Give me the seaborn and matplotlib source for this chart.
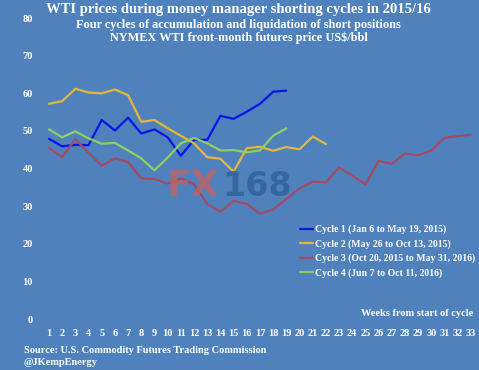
import pandas as pd
import numpy as np
import matplotlib
matplotlib.use("Agg")
import matplotlib.pyplot as plt
import seaborn as sns

# Weekly WTI prices (US$/bbl)
cycle1 = [47.9, 45.9, 46.3, 46.2, 52.9, 50.1, 53.5, 49.3, 50.4, 48.3,
          43.4, 47.6, 47.6, 54.0, 53.2, 55.1, 57.2, 60.4, 60.7]
cycle2 = [57.2, 57.9, 61.2, 60.2, 60.0, 61.0, 59.5, 52.4, 52.9, 50.7,
          48.7, 46.7, 43.0, 42.6, 39.2, 45.4, 45.8, 44.7, 45.7, 45.1,
          48.5, 46.5]
cycle3 = [45.5, 43.0, 47.8, 44.2, 40.7, 42.7, 41.7, 37.4, 37.2, 36.0,
          37.4, 35.8, 30.6, 28.5, 31.4, 30.6, 28.0, 29.1, 31.9, 34.7,
          36.5, 36.3, 40.3, 38.1, 35.8, 42.1, 41.2, 44.0, 43.5, 44.8,
          48.2, 48.6, 49.0]
cycle4 = [50.4, 48.3, 49.9, 48.0, 46.6, 46.8, 44.8, 42.7, 39.5, 42.9,
          46.7, 48.1, 46.7, 44.8, 44.9, 44.3, 44.8, 48.7, 50.7]

labels = ["Cycle 1 (Jan 6 to May 19, 2015)",
          "Cycle 2 (May 26 to Oct 13, 2015)",
          "Cycle 3 (Oct 20, 2015 to May 31, 2016)",
          "Cycle 4 (Jun 7 to Oct 11, 2016)"]
colors = ["#0A14E6", "#E6B63A", "#A64A64", "#8ECF62"]

frames = []
for lab, vals in zip(labels, [cycle1, cycle2, cycle3, cycle4]):
    frames.append(pd.DataFrame({"week": np.arange(1, len(vals) + 1),
                                "price": vals, "cycle": lab}))
df = pd.concat(frames)

bg = "#4F81BD"
sns.set_style("white")
plt.rcParams["font.family"] = ["Liberation Serif", "DejaVu Serif"]
plt.rcParams["font.weight"] = "bold"

fig = plt.figure(figsize=(4.79, 3.70), dpi=100, facecolor=bg)
ax = fig.add_axes([0.0747, 0.1378, 0.925, 0.8135])
ax.set_facecolor(bg)

# watermark
fig.text(0.347, 0.497, "FX", fontsize=26, color="#C8605E", alpha=0.75,
         family="DejaVu Sans", fontweight="bold", va="center")
fig.text(0.463, 0.497, "168", fontsize=24, color="#2F6098", alpha=0.8,
         family="DejaVu Sans", fontweight="bold", va="center")

sns.lineplot(data=df, x="week", y="price", hue="cycle", palette=colors,
             linewidth=1.6, ax=ax)

ax.set_xlim(0, 33.6)
ax.set_ylim(0, 80)
ax.set_xticks(range(1, 34))
ax.set_yticks(range(0, 81, 10))
ax.tick_params(colors="white", length=0, labelsize=7.5)
ax.tick_params(axis="x", pad=7)
ax.tick_params(axis="y", pad=2)
for t in ax.get_xticklabels() + ax.get_yticklabels():
    t.set_fontweight("bold")
ax.set_xlabel("")
ax.set_ylabel("")
for s in ax.spines.values():
    s.set_visible(False)

leg = ax.legend(loc="upper left", bbox_to_anchor=(0.596, 0.313),
                frameon=False, fontsize=7.0, handlelength=1.35,
                handletextpad=0.2, labelspacing=0.5, borderaxespad=0,
                borderpad=0)
for t in leg.get_texts():
    t.set_color("white")
    t.set_fontweight("bold")

fig.text(0.498, 0.973, "WTI prices during money manager shorting cycles in 2015/16",
         ha="center", va="center", color="white", fontsize=10.5, fontweight="bold")
fig.text(0.498, 0.932, "Four cycles of accumulation and liquidation of short positions",
         ha="center", va="center", color="white", fontsize=8.8, fontweight="bold")
fig.text(0.498, 0.899, "NYMEX WTI front-month futures price US$/bbl",
         ha="center", va="center", color="white", fontsize=8.8, fontweight="bold")
fig.text(0.988, 0.154, "Weeks from start of cycle", ha="right", va="center",
         color="white", fontsize=7.5, fontweight="bold")
fig.text(0.05, 0.054, "Source: U.S. Commodity Futures Trading Commission",
         ha="left", va="center", color="white", fontsize=7.5, fontweight="bold")
fig.text(0.05, 0.02, "@JKempEnergy", ha="left", va="center",
         color="white", fontsize=7.5, fontweight="bold")

fig.savefig("out.png", dpi=100, facecolor=bg)
